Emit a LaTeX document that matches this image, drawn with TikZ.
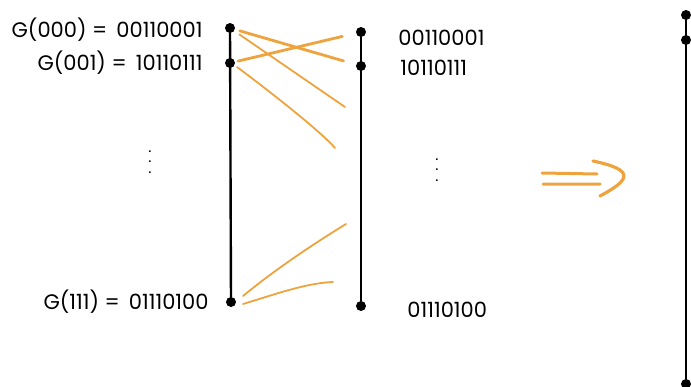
\documentclass[tikz,border=0pt]{standalone}
\usepackage{fontspec}
\setmainfont{Poppins}
\usetikzlibrary{positioning}
\definecolor{marker}{HTML}{EEA33E}
\begin{document}
\begin{tikzpicture}[x=1pt,y=-1pt,
  pin/.style={circle, fill=black, inner sep=0pt, minimum width=9pt, minimum height=10pt},
  word/.style={font=\fontsize{21}{24}\selectfont, inner sep=0pt},
  ellip/.style={font=\fontsize{15}{10.5}\selectfont, inner sep=0pt, align=center},
  wire/.style={line width=2.4pt, line cap=round},
  swap/.style={draw=marker, line width=2.8pt, line cap=round},
  thinswap/.style={draw=marker, line width=1.8pt, line cap=round}]
\useasboundingbox (0,0) rectangle (691,386);
% left column
\node[pin] (l1) at (230,28) {};
\node[pin] (l2) at (230,63) {};
\node[pin] (l3) at (231,302) {};
\draw[wire] (l1) -- (l3);
\node[word, left=22pt of l1, yshift=-2pt] (g1) {G(000) =\, 00110001};
\node[word, left=22pt of l2] (g2) {G(001) =\, 10110111};
\node[word, left=17pt of l3] (g3) {G(111) =\, 01110100};
\node[ellip] (ldots) at (150,162) {.\\.\\.};
% middle column
\node[pin] (m1) at (361,32) {};
\node[pin] (m2) at (361,66) {};
\node[pin] (m3) at (361,306) {};
\draw[wire] (m1) -- (m3);
\node[word, right=32pt of m1, yshift=-6pt] (h1) {00110001};
\node[word, right=34pt of m2, yshift=-2pt] (h2) {10110111};
\node[word, right=41pt of m3, yshift=-4pt] (h3) {01110100};
\node[ellip] (mdots) at (437,170) {.\\.\\.};
% swaps
\coordinate (c1) at (345,107);
\coordinate (c2) at (335,148);
\coordinate (c3) at (346,224);
\coordinate (c4) at (333,282);
\draw[swap, shorten <=5pt, shorten >=13pt] (l1) -- (m2);
\draw[swap, shorten <=3pt, shorten >=14pt] (l2) -- (m1);
\draw[thinswap, shorten <=6pt] (l1) -- (c1);
\draw[thinswap] ([xshift=7pt,yshift=-4pt]l2.center) .. controls (244,72) and (318,128) .. (c2);
\draw[thinswap] ([xshift=12pt,yshift=6pt]l3.center) .. controls (272,272) and (310,246) .. (c3);
\draw[thinswap] ([xshift=12pt,yshift=-2pt]l3.center) .. controls (270,296) and (305,283) .. (c4);
% arrow
\draw[marker, line width=3pt, line cap=round] (542,173) -- (597,174) (543,184) -- (600,184);
\draw[marker, line width=3.2pt, line cap=round] (593,161) .. controls (636,170) and (630,180) .. (600,196);
% right column
\node[pin] (r1) at (686,15) {};
\node[pin] (r2) at (686,40) {};
\node[pin] (r3) at (686,384) {};
\draw[wire] (r1) -- (r3);
\end{tikzpicture}
\end{document}
